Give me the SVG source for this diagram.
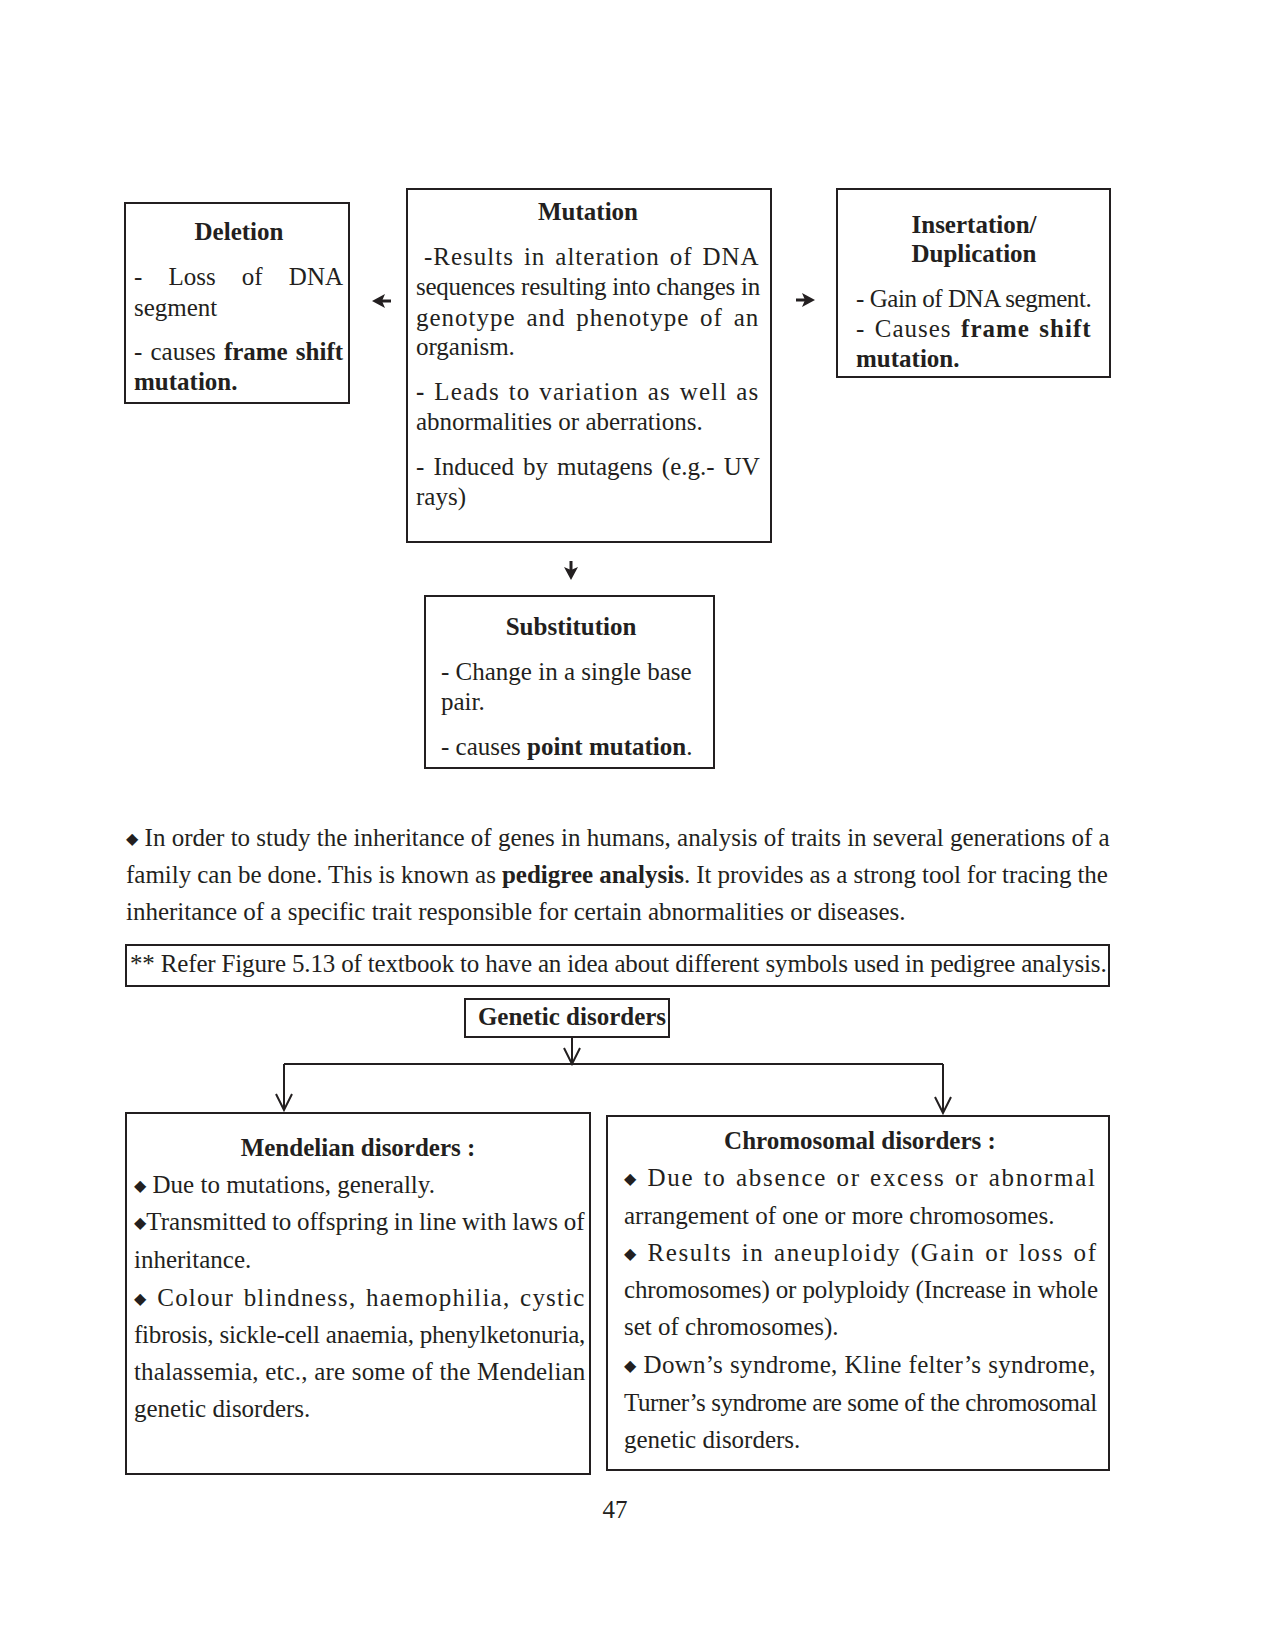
<svg xmlns="http://www.w3.org/2000/svg" width="1275" height="1651" viewBox="0 0 1275 1651">
<style>
.box{fill:none;stroke:#231f20;stroke-width:2}
.t{font-family:"Liberation Serif","Times New Roman",serif;font-size:25px;fill:#231f20}
.tb{font-family:"Liberation Serif","Times New Roman",serif;font-size:25px;fill:#231f20;font-weight:bold}
.c{text-anchor:middle}
.b{font-weight:bold}
.d{font-family:"DejaVu Sans",sans-serif;font-size:16px;baseline-shift:2px}
.ln{fill:none;stroke:#231f20;stroke-width:2}
.sh{fill:none;stroke:#231f20;stroke-width:3}
.fh{fill:#231f20}
</style>
<defs>
<marker id="open" viewBox="0 0 20 20" refX="18" refY="10" markerWidth="20" markerHeight="20" markerUnits="userSpaceOnUse" orient="auto">
<path d="M2,2 L18,10 L2,18" fill="none" stroke="#231f20" stroke-width="2"/>
</marker>
</defs>
<rect width="1275" height="1651" fill="#ffffff"/>

<g id="node-deletion">
<rect class="box" x="125" y="203" width="224" height="200"/>
<text class="tb c" x="239" y="240">Deletion</text>
<text class="t" x="134" y="285" style="word-spacing:19.9px">- Loss of DNA</text>
<text class="t" x="134" y="316">segment</text>
<text class="t" x="134" y="360" style="word-spacing:1.9px">- causes <tspan class="b">frame shift</tspan></text>
<text class="tb" x="134" y="390">mutation.</text>
</g>

<g id="node-mutation">
<rect class="box" x="407" y="189" width="364" height="353"/>
<text class="tb c" x="588" y="220">Mutation</text>
<text class="t" x="424" y="265" style="letter-spacing:1px;word-spacing:2.7px">-Results in alteration of DNA</text>
<text class="t" x="416" y="295" style="letter-spacing:-0.25px">sequences resulting into changes in</text>
<text class="t" x="416" y="326" style="letter-spacing:1px;word-spacing:3.5px">genotype and phenotype of an</text>
<text class="t" x="416" y="355">organism.</text>
<text class="t" x="416" y="400" style="letter-spacing:1.2px;word-spacing:1.3px"><tspan class="b">-</tspan> Leads to variation as well as</text>
<text class="t" x="416" y="430">abnormalities or aberrations.</text>
<text class="t" x="416" y="475" style="word-spacing:2.8px">- Induced by mutagens (e.g.- UV</text>
<text class="t" x="416" y="505">rays)</text>
</g>

<g id="node-insertion">
<rect class="box" x="837" y="189" width="273" height="188"/>
<text class="tb c" x="974" y="233">Insertation/</text>
<text class="tb c" x="974" y="262">Duplication</text>
<text class="t" x="856" y="307" style="letter-spacing:-0.45px">- Gain of DNA segment.</text>
<text class="t" x="856" y="337" style="letter-spacing:1px;word-spacing:2.2px">- Causes <tspan class="b">frame shift</tspan></text>
<text class="tb" x="856" y="367">mutation.</text>
</g>

<g id="node-substitution">
<rect class="box" x="425" y="596" width="289" height="172"/>
<text class="tb c" x="571" y="635">Substitution</text>
<text class="t" x="441" y="680">- Change in a single base</text>
<text class="t" x="441" y="710">pair.</text>
<text class="t" x="441" y="755">- causes <tspan class="b">point mutation</tspan>.</text>
</g>

<g id="paragraph">
<text class="t" x="126" y="846"><tspan class="d">◆</tspan> In order to study the inheritance of genes in humans, analysis of traits in several generations of a</text>
<text class="t" x="126" y="883" style="word-spacing:-0.25px">family can be done. This is known as <tspan class="b">pedigree analysis</tspan>. It provides as a strong tool for tracing the</text>
<text class="t" x="126" y="920">inheritance of a specific trait responsible for certain abnormalities or diseases.</text>
</g>

<g id="node-refer">
<rect class="box" x="126" y="945" width="983" height="41"/>
<text class="t" x="130" y="972" style="letter-spacing:-0.16px">** Refer Figure 5.13 of textbook to have an idea about different symbols used in pedigree analysis.</text>
</g>

<g id="node-genetic">
<rect class="box" x="465" y="999" width="204" height="38"/>
<text class="tb c" x="572" y="1025">Genetic disorders</text>
</g>

<g id="node-mendelian">
<rect class="box" x="126" y="1113" width="464" height="361"/>
<text class="tb c" x="358" y="1156">Mendelian disorders :</text>
<text class="t" x="134" y="1193"><tspan class="d">◆</tspan> Due to mutations, generally.</text>
<text class="t" x="134" y="1230" style="word-spacing:-0.6px"><tspan class="d">◆</tspan>Transmitted to offspring in line with laws of</text>
<text class="t" x="134" y="1268">inheritance.</text>
<text class="t" x="134" y="1306" style="letter-spacing:1.2px;word-spacing:2.3px"><tspan class="d">◆</tspan> Colour blindness, haemophilia, cystic</text>
<text class="t" x="134" y="1343" style="letter-spacing:-0.21px">fibrosis, sickle-cell anaemia, phenylketonuria,</text>
<text class="t" x="134" y="1380" style="letter-spacing:0.15px;word-spacing:0.2px">thalassemia, etc., are some of the Mendelian</text>
<text class="t" x="134" y="1417">genetic disorders.</text>
</g>

<g id="node-chromosomal">
<rect class="box" x="607" y="1116" width="502" height="354"/>
<text class="tb c" x="860" y="1149">Chromosomal disorders :</text>
<text class="t" x="624" y="1186" style="letter-spacing:1.7px;word-spacing:1.5px"><tspan class="d">◆</tspan> Due to absence or excess or abnormal</text>
<text class="t" x="624" y="1224">arrangement of one or more chromosomes.</text>
<text class="t" x="624" y="1261" style="letter-spacing:1.6px;word-spacing:1.7px"><tspan class="d">◆</tspan> Results in aneuploidy (Gain or loss of</text>
<text class="t" x="624" y="1298" style="letter-spacing:-0.13px">chromosomes) or polyploidy (Increase in whole</text>
<text class="t" x="624" y="1335">set of chromosomes).</text>
<text class="t" x="624" y="1373" style="letter-spacing:0.3px;word-spacing:0.4px"><tspan class="d">◆</tspan> Down’s syndrome, Kline felter’s syndrome,</text>
<text class="t" x="624" y="1411" style="letter-spacing:-0.42px">Turner’s syndrome are some of the chromosomal</text>
<text class="t" x="624" y="1448">genetic disorders.</text>
</g>

<g id="connectors">
<path class="sh" d="M391,301 L382,301"/>
<path class="fh" d="M372,301 L385,294 L382,301 L385,308 Z"/>
<path class="sh" d="M796,300 L805,300"/>
<path class="fh" d="M815,300 L802,293 L805,300 L802,307 Z"/>
<path class="sh" d="M571,561 L571,570"/>
<path class="fh" d="M571,580 L564,567 L571,570 L578,567 Z"/>
<path class="ln" d="M572,1037 L572,1064" marker-end="url(#open)"/>
<path class="ln" d="M284,1064 L943,1064"/>
<path class="ln" d="M284,1064 L284,1110" marker-end="url(#open)"/>
<path class="ln" d="M943,1064 L943,1113" marker-end="url(#open)"/>
</g>

<text class="t c" x="615" y="1518">47</text>
</svg>
